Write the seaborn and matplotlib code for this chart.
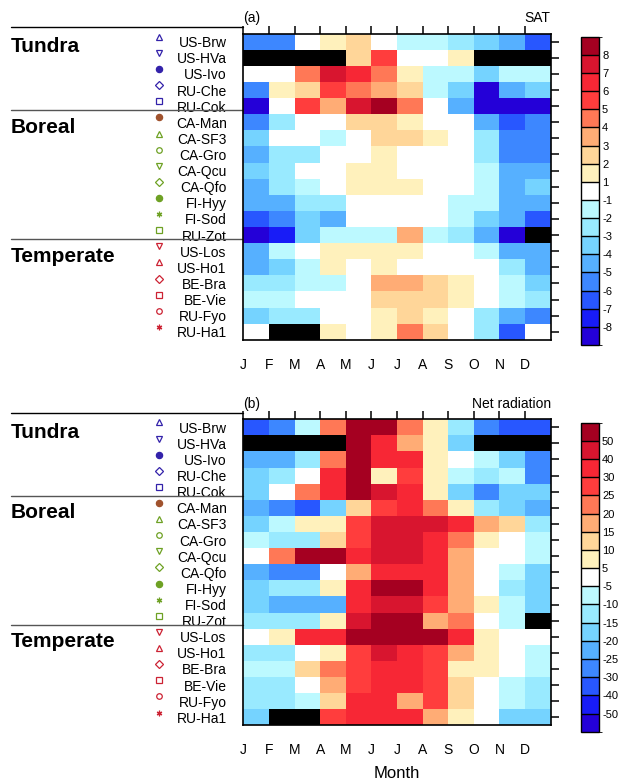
import numpy as np
import pandas as pd
import matplotlib
matplotlib.use('Agg')
import matplotlib.pyplot as plt
import matplotlib.transforms as mtransforms
from matplotlib.colors import ListedColormap, BoundaryNorm
import seaborn as sns

nan = np.nan

# =========================================
# Data
# =========================================

months = ['J', 'F', 'M', 'A', 'M', 'J', 'J', 'A', 'S', 'O', 'N', 'D']

sites = ['US-Brw', 'US-HVa', 'US-Ivo', 'RU-Che', 'RU-Cok',
         'CA-Man', 'CA-SF3', 'CA-Gro', 'CA-Qcu', 'CA-Qfo', 'FI-Hyy', 'FI-Sod', 'RU-Zot',
         'US-Los', 'US-Ho1', 'BE-Bra', 'BE-Vie', 'RU-Fyo', 'RU-Ha1']

groups = ['Tundra', 'Boreal', 'Temperate']
group_start = [0, 5, 13]

site_marker = ['^', 'v', 'o', 'D', 's',
               'o', '^', 'o', 'v', 'D', 'o', (6, 2, 0), 's',
               'v', '^', 'D', 's', 'o', (6, 2, 0)]
site_filled = [False, False, True, False, False,
               True, False, False, False, False, True, False, False,
               False, False, False, False, False, False]
site_color = ['#3322aa'] * 5 + ['#a0522d'] + ['#6ea124'] * 7 + ['#cc2233'] * 6

# SAT (monthly), NaN = missing
sat = [
    [-5.5, -5.5, 0, 1.5, 2.5, 0, -1.5, -1.5, -2.5, -3.5, -4.5, -6.5],
    [nan, nan, nan, nan, 2.5, 5.5, 0, 0, 1.5, nan, nan, nan],
    [0, 0, 4.5, 7.5, 6.5, 4.5, 1.5, -1.5, -1.5, -3.5, -1.5, -1.5],
    [-5.5, 1.5, 2.5, 5.5, 4.5, 3.5, 2.5, -1.5, -3.5, -8.5, -4.5, -3.5],
    [-8.5, 0, 5.5, 3.5, 7.5, 8.5, 4.5, 0, -4.5, -8.5, -8.5, -8.5],
    [-5.5, -2.5, 0, 0, 2.5, 2.5, 1.5, 0, 0, -4.5, -6.5, -5.5],
    [-3.5, 0, 0, -1.5, 0, 2.5, 2.5, 1.5, 0, -2.5, -5.5, -5.5],
    [-4.5, -2.5, -2.5, 0, 0, 1.5, 0, 0, 0, -2.5, -5.5, -5.5],
    [-3.5, -2.5, 0, 0, 1.5, 1.5, 0, 0, 0, -1.5, -4.5, -4.5],
    [-4.5, -2.5, -1.5, 0, 1.5, 1.5, 1.5, 0, 0, -1.5, -4.5, -3.5],
    [-4.5, -4.5, -2.5, -2.5, 0, 0, 0, 0, -1.5, -1.5, -4.5, -4.5],
    [-6.5, -5.5, -3.5, -4.5, 0, 0, 0, 0, -1.5, -3.5, -4.5, -6.5],
    [-8.5, -7.5, -3.5, -1.5, -1.5, -1.5, 3.5, -1.5, -2.5, -4.5, -8.5, nan],
    [-4.5, -1.5, 0, 1.5, 1.5, 1.5, 1.5, 0, 0, -1.5, -4.5, -4.5],
    [-4.5, -3.5, -1.5, 1.5, 0, 1.5, 0, 0, 0, 0, -2.5, -4.5],
    [-2.5, -2.5, -1.5, -1.5, 0, 3.5, 3.5, 2.5, 1.5, 0, -1.5, -3.5],
    [-1.5, -1.5, 0, 0, 0, 2.5, 2.5, 2.5, 1.5, 0, -1.5, -2.5],
    [-3.5, -2.5, -2.5, 0, 0, 1.5, 2.5, 1.5, 0, -2.5, -4.5, -5.5],
    [0, nan, nan, 1.5, 0, 1.5, 4.5, 2.5, 0, -2.5, -6.5, 0],
]

# Net radiation (monthly), NaN = missing
netrad = [
    [-35, -27, -7, 22, 55, 55, 22, 7, -12, -27, -35, -35],
    [nan, nan, nan, nan, 55, 35, 17, 7, -17, nan, nan, nan],
    [-22, -22, -12, 22, 55, 35, 35, 7, 0, -7, -17, -27],
    [-17, -12, 0, 35, 55, 7, 27, 7, -7, -12, -7, -27],
    [-17, 0, 22, 35, 55, 45, 35, 7, -17, -27, -17, -17],
    [-22, -27, -35, -17, 12, 27, 35, 22, 7, -12, -17, -22],
    [-17, -7, 7, 7, 27, 45, 45, 45, 35, 17, 12, -12],
    [-7, -12, -12, 12, 27, 45, 45, 35, 22, 7, 0, -7],
    [0, 22, 55, 55, 35, 45, 45, 35, 17, 0, 0, -7],
    [-22, -27, -27, 0, 17, 35, 35, 35, 17, 0, -7, -17],
    [-17, -12, -12, 7, 35, 55, 55, 35, 17, 0, -12, -17],
    [-17, -22, -22, -22, 35, 45, 45, 27, 17, 7, -7, -17],
    [-12, -12, -12, 7, 45, 55, 55, 17, 22, 0, -7, nan],
    [0, 7, 35, 35, 55, 55, 55, 55, 35, 7, 0, 0],
    [-12, -12, 0, 7, 27, 45, 35, 27, 17, 7, 0, -7],
    [-7, -7, 12, 22, 27, 35, 35, 27, 7, 7, 0, -7],
    [-12, -12, 0, 17, 27, 35, 35, 27, 12, 0, -7, -12],
    [-12, -12, -7, 12, 35, 35, 17, 27, 12, 0, -7, -12],
    [-17, nan, nan, 27, 35, 35, 35, 17, 7, 0, -17, -17],
]

sat_levels = [-8, -7, -6, -5, -4, -3, -2, -1, 1, 2, 3, 4, 5, 6, 7, 8]
rad_levels = [-50, -40, -30, -25, -20, -15, -10, -5, 5, 10, 15, 20, 25, 30, 40, 50]

palette = ['#2400d8', '#181cf7', '#2857ff', '#3d87ff', '#56b0ff', '#75d3ff',
           '#99eaff', '#bcf9ff', '#ffffff', '#fff1bc', '#ffd699', '#ffac75',
           '#ff7856', '#ff3d3d', '#f72735', '#d8152f', '#a50021']
cmap = ListedColormap(palette)

# =========================================
# Figure
# =========================================

sns.set_style('white')
plt.rcParams['font.family'] = ['Liberation Sans', 'DejaVu Sans']
plt.rcParams['axes.unicode_minus'] = False
plt.rcParams['text.color'] = 'black'
plt.rcParams['axes.labelcolor'] = 'black'
plt.rcParams['xtick.color'] = 'black'
plt.rcParams['ytick.color'] = 'black'

fig = plt.figure(figsize=(6.18, 7.82), dpi=100)


def draw_panel(axbox, cbox, values, levels, lo, hi, tag, name, xlabel):
    ax = fig.add_axes(axbox)
    cax = fig.add_axes(cbox)

    df = pd.DataFrame(values, index=sites, columns=range(1, 13))
    norm = BoundaryNorm([lo] + levels + [hi], cmap.N)

    sns.heatmap(df, ax=ax, cmap=cmap, norm=norm, cbar=False,
                linewidths=0, xticklabels=False, yticklabels=False)
    ax.set_facecolor('black')

    for sp in ax.spines.values():
        sp.set_visible(True)
        sp.set_linewidth(1.2)
        sp.set_color('black')

    ax.set_xticks(np.arange(12))
    ax.set_xticklabels(months, rotation=0)
    ax.set_yticks(np.arange(len(sites)) + 0.5)
    ax.set_yticklabels(sites, rotation=0)
    ax.tick_params(axis='both', direction='out', length=6, width=1.1,
                   top=True, right=True, labeltop=False, labelright=False,
                   labelsize=10, color='black', labelcolor='black')
    ax.tick_params(axis='x', pad=7)
    ax.tick_params(axis='y', pad=6)
    ax.set_xlabel('')
    ax.set_ylabel('')

    ax.set_title(tag, loc='left', fontsize=10, pad=8, color='black')
    ax.set_title(name, loc='right', fontsize=10, pad=8, color='black')
    if xlabel:
        ax.set_xlabel(xlabel, fontsize=12, labelpad=6, color='black')

    # group labels, separators and site markers on the left
    trans = mtransforms.blended_transform_factory(fig.transFigure, ax.transData)
    x0 = 10.7 / 618
    x1 = axbox[0]
    for g, start in zip(groups, group_start):
        off = -0.4 if start == 0 else -0.25
        col = 'black' if start == 0 else '#555555'
        ax.plot([x0, x1], [start + off, start + off], transform=trans,
                color=col, lw=1, clip_on=False)
        ax.text(x0, start + 1.15, g, transform=trans, fontsize=15,
                fontweight='bold', ha='left', va='baseline', color='black')

    xm = 158.7 / 618
    for i in range(len(sites)):
        c = site_color[i]
        ax.plot([xm], [i + 0.2], transform=trans, marker=site_marker[i],
                markersize=4.5 if site_filled[i] else 4,
                markerfacecolor=c if site_filled[i] else 'none',
                markeredgecolor=c, markeredgewidth=0.9,
                linestyle='none', clip_on=False)

    # colorbar
    cb = fig.colorbar(ax.collections[0], cax=cax, spacing='uniform',
                      drawedges=True)
    cb.set_ticks(levels, labels=[str(v) for v in levels])
    cb.outline.set_linewidth(1)
    cb.outline.set_edgecolor('black')
    cb.dividers.set_color('black')
    cb.dividers.set_linewidth(1)
    cax.tick_params(length=0, labelsize=8, pad=2, labelcolor='black')
    return ax


fl = 243.3 / 618
fw = (550.7 - 243.3) / 618
fh = 306.2 / 782

draw_panel([fl, (782 - 339.8) / 782, fw, fh],
           [580.7 / 618, (782 - 345) / 782, 18.6 / 618, 308.3 / 782],
           sat, sat_levels, -9, 9, '(a)', 'SAT', None)

draw_panel([fl, (782 - 725.4) / 782, fw, fh],
           [580.7 / 618, (782 - 731.7) / 782, 18.6 / 618, 309 / 782],
           netrad, rad_levels, -60, 60, '(b)', 'Net radiation', 'Month')

plt.savefig('out.png', dpi=100)
